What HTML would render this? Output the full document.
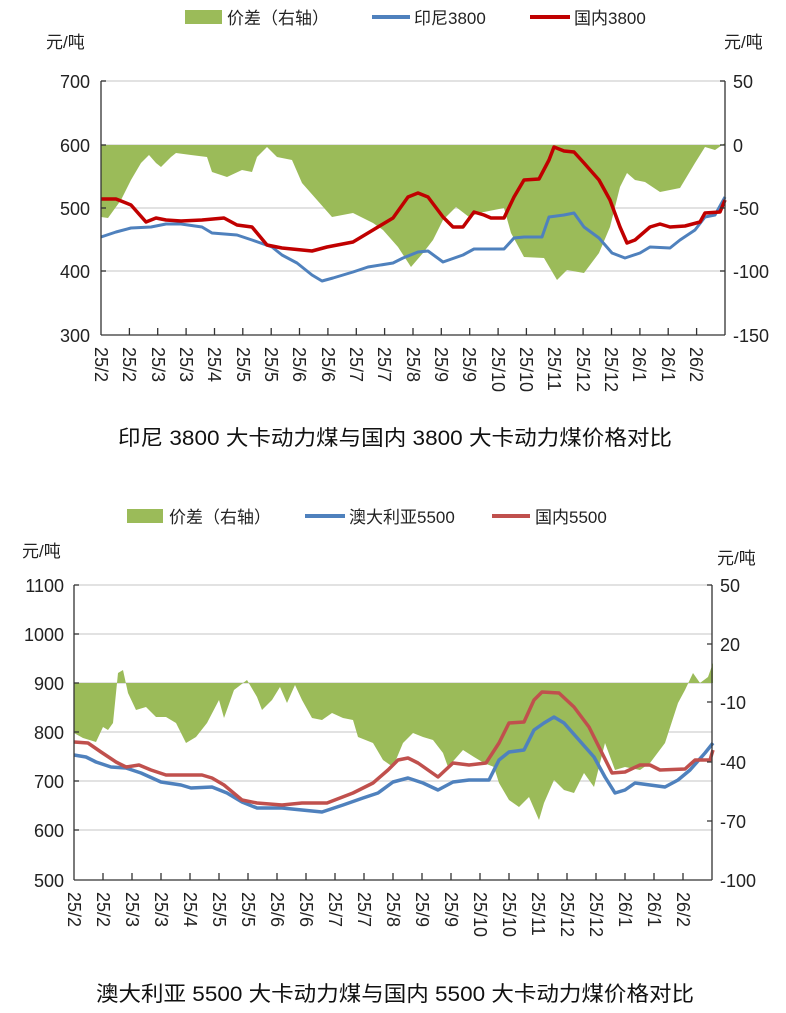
<!DOCTYPE html>
<html><head><meta charset="utf-8"><style>
body{margin:0;background:#fff;}
svg{display:block;font-family:"Liberation Sans","Noto Sans CJK SC",sans-serif;}
</style></head><body>
<svg width="786" height="1013" viewBox="0 0 786 1013" xmlns="http://www.w3.org/2000/svg">
<!-- ===== TOP CHART ===== -->
<g font-size="17" fill="#222">
<rect x="185" y="10" width="37" height="14" fill="#9bbb59"/><text x="227" y="24">价差（右轴）</text>
<line x1="372" y1="17" x2="410" y2="17" stroke="#4f81bd" stroke-width="4"/><text x="414" y="24">印尼3800</text>
<line x1="530" y1="17" x2="570" y2="17" stroke="#c00000" stroke-width="4"/><text x="574" y="24">国内3800</text>
<text x="46" y="48">元/吨</text><text x="724" y="48">元/吨</text>
</g>
<g stroke="#d9d9d9" stroke-width="1.5">
<line x1="101" y1="81" x2="725" y2="81"/><line x1="101" y1="145" x2="725" y2="145"/><line x1="101" y1="208" x2="725" y2="208"/><line x1="101" y1="271" x2="725" y2="271"/>
</g>
<polygon fill="#9bbb59" points="101,145 101,217 108,218 121,200 131,180 141,163 149,155 156,163 161,167 171,157 176,153 191,155 207,157 212,172 227,177 242,170 252,172 257,157 267,147 277,157 292,160 302,183 317,200 332,217 353,213 373,223 383,230 398,247 411,267 423,253 433,240 443,220 456,207 469,217 479,213 504,208 511,233 524,257 544,258 557,280 567,270 584,273 599,253 610,227 620,187 627,173 635,180 645,182 660,192 680,188 695,163 705,147 715,150 725,143 725,145"/>
<polyline fill="none" stroke="#4f81bd" stroke-width="3" stroke-linejoin="round" points="101,237 116,232 131,228 151,227 166,224 181,224 202,227 212,233 237,235 252,240 272,247 282,255 297,263 312,275 322,281 333,278 353,272 368,267 393,263 403,258 418,252 428,251 443,262 463,255 474,249 504,249 514,238 524,237 542,237 549,217 564,215 574,213 584,227 599,238 612,253 625,258 640,253 650,247 670,248 680,240 695,230 705,217 715,215 725,197"/>
<polyline fill="none" stroke="#c00000" stroke-width="3.5" stroke-linejoin="round" points="101,199 116,199 131,205 146,222 156,218 166,220 181,221 202,220 224,218 237,225 252,227 267,245 282,248 312,251 327,247 353,242 373,230 393,218 408,197 418,193 428,197 443,217 453,227 463,227 474,212 484,215 491,218 504,218 514,197 524,180 539,179 549,160 554,147 564,151 574,152 584,163 599,180 610,200 620,227 627,243 635,240 650,227 660,224 670,227 685,226 700,222 705,213 720,212 725,200"/>
<g stroke="#333" stroke-width="1.3" fill="none">
<line x1="101" y1="81" x2="101" y2="335"/><line x1="725" y1="81" x2="725" y2="335"/><line x1="101" y1="335" x2="725" y2="335"/>
<line x1="725" y1="81" x2="720" y2="81"/><line x1="725" y1="145" x2="720" y2="145"/><line x1="725" y1="208" x2="720" y2="208"/><line x1="725" y1="271" x2="720" y2="271"/>
<line x1="101" y1="81" x2="106" y2="81"/><line x1="101" y1="145" x2="106" y2="145"/><line x1="101" y1="208" x2="106" y2="208"/><line x1="101" y1="271" x2="106" y2="271"/>
<path d="M129.4 335v-7M157.7 335v-7M186.1 335v-7M214.5 335v-7M242.8 335v-7M271.2 335v-7M299.5 335v-7M327.9 335v-7M356.3 335v-7M384.6 335v-7M413 335v-7M441.3 335v-7M469.7 335v-7M498.1 335v-7M526.4 335v-7M554.8 335v-7M583.1 335v-7M611.5 335v-7M639.9 335v-7M668.2 335v-7M696.6 335v-7"/>
</g>
<g font-size="18" fill="#222" text-anchor="end">
<text x="90" y="88">700</text><text x="90" y="152">600</text><text x="90" y="215">500</text><text x="90" y="278">400</text><text x="90" y="342">300</text>
</g>
<g font-size="18" fill="#222">
<text x="733" y="88">50</text><text x="733" y="152">0</text><text x="733" y="215">-50</text><text x="733" y="278">-100</text><text x="733" y="342">-150</text>
</g>
<g font-size="18" fill="#222">
<text transform="translate(95,347) rotate(90)">25/2</text><text transform="translate(123,347) rotate(90)">25/2</text><text transform="translate(152,347) rotate(90)">25/3</text><text transform="translate(180,347) rotate(90)">25/3</text><text transform="translate(208,347) rotate(90)">25/4</text><text transform="translate(237,347) rotate(90)">25/5</text><text transform="translate(265,347) rotate(90)">25/5</text><text transform="translate(293,347) rotate(90)">25/6</text><text transform="translate(322,347) rotate(90)">25/6</text><text transform="translate(350,347) rotate(90)">25/7</text><text transform="translate(378,347) rotate(90)">25/7</text><text transform="translate(407,347) rotate(90)">25/8</text><text transform="translate(435,347) rotate(90)">25/9</text><text transform="translate(463,347) rotate(90)">25/9</text><text transform="translate(492,347) rotate(90)">25/10</text><text transform="translate(520,347) rotate(90)">25/10</text><text transform="translate(548,347) rotate(90)">25/11</text><text transform="translate(577,347) rotate(90)">25/12</text><text transform="translate(605,347) rotate(90)">25/12</text><text transform="translate(633,347) rotate(90)">26/1</text><text transform="translate(662,347) rotate(90)">26/1</text><text transform="translate(690,347) rotate(90)">26/2</text>
</g>
<text x="118" y="445" font-size="21" fill="#111" textLength="554" lengthAdjust="spacingAndGlyphs">印尼 3800 大卡动力煤与国内 3800 大卡动力煤价格对比</text>

<!-- ===== BOTTOM CHART ===== -->
<g font-size="17" fill="#222">
<rect x="127" y="509" width="36" height="14" fill="#9bbb59"/><text x="169" y="523">价差（右轴）</text>
<line x1="305" y1="516" x2="345" y2="516" stroke="#4f81bd" stroke-width="4"/><text x="349" y="523">澳大利亚5500</text>
<line x1="492" y1="516" x2="530" y2="516" stroke="#c0504d" stroke-width="4"/><text x="535" y="523">国内5500</text>
<text x="22" y="557">元/吨</text><text x="717" y="564">元/吨</text>
</g>
<g stroke="#d9d9d9" stroke-width="1.5">
<line x1="74" y1="585" x2="712" y2="585"/><line x1="74" y1="634" x2="712" y2="634"/><line x1="74" y1="683" x2="712" y2="683"/><line x1="74" y1="732" x2="712" y2="732"/><line x1="74" y1="781" x2="712" y2="781"/><line x1="74" y1="830" x2="712" y2="830"/>
</g>
<polygon fill="#9bbb59" points="74,683 74,733 83,738 96,742 103,727 108,730 113,723 118,673 123,670 128,693 136,710 146,707 156,717 166,717 176,723 186,743 196,737 207,723 219,700 224,718 234,690 247,680 257,697 262,710 272,700 280,687 287,703 295,685 302,700 312,718 322,720 332,713 343,718 353,720 358,737 373,743 383,760 393,767 403,743 413,733 423,737 433,740 443,753 448,767 463,750 474,757 484,763 494,767 499,783 509,800 519,807 529,797 539,820 544,803 554,780 564,790 574,793 584,773 594,787 605,743 615,770 625,767 640,770 650,763 665,743 678,703 685,690 693,673 700,683 708,677 713,663 713,683"/>
<polyline fill="none" stroke="#4f81bd" stroke-width="3.5" stroke-linejoin="round" points="74,755 86,757 96,762 111,767 126,768 141,773 161,782 181,785 191,788 212,787 227,793 242,802 257,808 282,808 302,810 322,812 343,805 363,798 378,793 393,782 408,778 423,783 438,790 453,782 469,780 489,780 499,760 509,752 524,750 534,730 544,723 554,717 564,723 579,740 594,757 605,777 615,793 625,790 635,783 650,785 665,787 678,780 690,770 705,753 713,743"/>
<polyline fill="none" stroke="#c0504d" stroke-width="3.5" stroke-linejoin="round" points="74,742 88,743 101,752 116,762 126,767 139,765 151,770 166,775 186,775 202,775 212,778 224,785 242,800 257,803 282,805 302,803 327,803 353,793 373,783 388,770 398,760 408,758 418,763 438,777 453,763 469,765 486,763 499,743 509,723 524,722 534,700 542,692 559,693 574,707 589,727 602,753 612,773 625,772 640,765 650,765 660,770 685,769 695,760 710,760 713,750"/>
<g stroke="#333" stroke-width="1.3" fill="none">
<line x1="74" y1="585" x2="74" y2="880"/><line x1="712" y1="585" x2="712" y2="880"/><line x1="74" y1="880" x2="712" y2="880"/>
<path d="M74 585h5M74 634h5M74 683h5M74 732h5M74 781h5M74 830h5M712 585h-5M712 644h-5M712 702h-5M712 762h-5M712 821h-5"/>
<path d="M103 880v-7M132 880v-7M161 880v-7M190 880v-7M219 880v-7M248 880v-7M277 880v-7M306 880v-7M335 880v-7M364 880v-7M393 880v-7M422 880v-7M451 880v-7M480 880v-7M509 880v-7M538 880v-7M567 880v-7M596 880v-7M625 880v-7M654 880v-7M683 880v-7"/>
</g>
<g font-size="18" fill="#222" text-anchor="end">
<text x="64" y="592">1100</text><text x="64" y="641">1000</text><text x="64" y="690">900</text><text x="64" y="739">800</text><text x="64" y="788">700</text><text x="64" y="837">600</text><text x="64" y="887">500</text>
</g>
<g font-size="18" fill="#222">
<text x="720" y="592">50</text><text x="720" y="651">20</text><text x="720" y="709">-10</text><text x="720" y="769">-40</text><text x="720" y="828">-70</text><text x="720" y="887">-100</text>
</g>
<g font-size="18" fill="#222">
<text transform="translate(68,892) rotate(90)">25/2</text><text transform="translate(97,892) rotate(90)">25/2</text><text transform="translate(126,892) rotate(90)">25/3</text><text transform="translate(155,892) rotate(90)">25/3</text><text transform="translate(184,892) rotate(90)">25/4</text><text transform="translate(213,892) rotate(90)">25/5</text><text transform="translate(242,892) rotate(90)">25/5</text><text transform="translate(271,892) rotate(90)">25/6</text><text transform="translate(300,892) rotate(90)">25/6</text><text transform="translate(329,892) rotate(90)">25/7</text><text transform="translate(358,892) rotate(90)">25/7</text><text transform="translate(387,892) rotate(90)">25/8</text><text transform="translate(416,892) rotate(90)">25/9</text><text transform="translate(445,892) rotate(90)">25/9</text><text transform="translate(474,892) rotate(90)">25/10</text><text transform="translate(503,892) rotate(90)">25/10</text><text transform="translate(532,892) rotate(90)">25/11</text><text transform="translate(561,892) rotate(90)">25/12</text><text transform="translate(590,892) rotate(90)">25/12</text><text transform="translate(619,892) rotate(90)">26/1</text><text transform="translate(648,892) rotate(90)">26/1</text><text transform="translate(677,892) rotate(90)">26/2</text>
</g>
<text x="96" y="1001" font-size="21" fill="#111" textLength="598" lengthAdjust="spacingAndGlyphs">澳大利亚 5500 大卡动力煤与国内 5500 大卡动力煤价格对比</text>
</svg>
</body></html>
